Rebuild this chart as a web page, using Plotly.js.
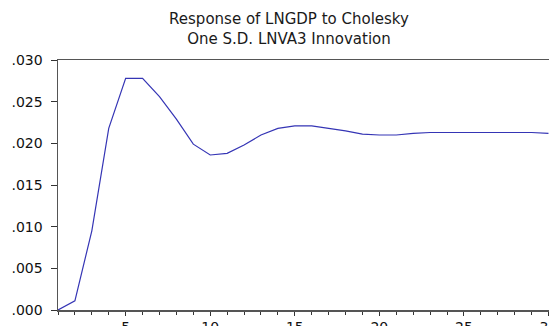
<!DOCTYPE html>
<html>
<head>
<meta charset="utf-8">
<script src="https://cdn.plot.ly/plotly-3.0.1.min.js"></script>
<style>html,body{margin:0;padding:0;background:#fff;}#chart{width:549px;height:326px;}</style>
</head>
<body>
<div id="chart"></div>
<script>
const periods = [1,2,3,4,5,6,7,8,9,10,11,12,13,14,15,16,17,18,19,20,21,22,23,24,25,26,27,28,29,30];
const response = [0.0000,0.0011,0.0095,0.0218,0.0278,0.0278,0.0256,0.0229,0.0199,0.0186,0.0188,0.0198,0.0210,0.0218,0.0221,0.0221,0.0218,0.0215,0.0211,0.0210,0.0210,0.0212,0.0213,0.0213,0.0213,0.0213,0.0213,0.0213,0.0213,0.0212];
const yTickVals = [0,0.005,0.010,0.015,0.020,0.025,0.030];
const yTickText = ['.000','.005','.010','.015','.020','.025','.030'];
const xTickVals = [5,10,15,20,25,30];
const xTickText = ['5','10','15','20','25','30'];
const titleText = 'Response of LNGDP to Cholesky<br>One S.D. LNVA3 Innovation';

const font = 'DejaVu Sans, Liberation Sans, Arial, sans-serif';
Plotly.newPlot('chart', [{
  x: periods, y: response, type: 'scatter', mode: 'lines',
  line: {color: '#3535b5', width: 1.2}, hoverinfo: 'skip'
}], {
  width: 549, height: 326,
  margin: {l: 57.5, r: 0, t: 59.5, b: 16, pad: 0},
  paper_bgcolor: '#ffffff', plot_bgcolor: '#ffffff',
  showlegend: false,
  title: {text: titleText, x: 289/549, xanchor: 'center', xref: 'container', y: 1 - 24/326, yanchor: 'top', yref: 'container',
          font: {family: font, size: 15, color: '#1a1a1a'}},
  xaxis: {
    range: [1, 30.03], showgrid: false, zeroline: false,
    showline: true, linecolor: '#555', linewidth: 1.5, mirror: true,
    ticks: 'outside', ticklen: 4, tickcolor: '#333', tickwidth: 1,
    tickvals: xTickVals, ticktext: xTickText, ticklabeloverflow: 'allow',
    minor: {tickmode: 'linear', tick0: 1, dtick: 1, ticks: 'outside', ticklen: 3, tickcolor: '#333', showgrid: false},
    tickfont: {family: font, size: 14, color: '#111'}
  },
  yaxis: {
    range: [0, 0.030], showgrid: false, zeroline: false,
    showline: true, linecolor: '#555', linewidth: 1.5,
    ticks: 'outside', ticklen: 6, tickcolor: '#333', tickwidth: 1,
    ticklabelstandoff: 5,
    tickvals: yTickVals, ticktext: yTickText,
    tickfont: {family: font, size: 14, color: '#111'}
  }
}, {staticPlot: true, displayModeBar: false});
</script>
</body>
</html>
